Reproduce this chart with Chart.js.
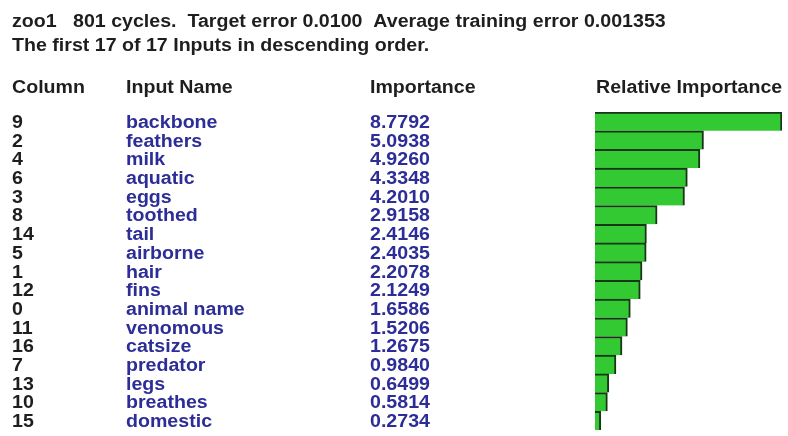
<!DOCTYPE html>
<html>
<head>
<meta charset="utf-8">
<script src="https://cdn.jsdelivr.net/npm/chart.js@4/dist/chart.umd.min.js"></script>
<style>
  html, body { margin: 0; padding: 0; background: #ffffff; }
  #wrap { width: 788px; height: 436px; position: relative; }
</style>
</head>
<body>
<div id="wrap"><canvas id="c" width="788" height="436"></canvas></div>
<script>
// ---- data ----
const titleLines = [
  "zoo1   801 cycles.  Target error 0.0100  Average training error 0.001353",
  "The first 17 of 17 Inputs in descending order."
];
const headers = ["Column", "Input Name", "Importance", "Relative Importance"];
const columns = ["9", "2", "4", "6", "3", "8", "14", "5", "1", "12", "0", "11", "16", "7", "13", "10", "15"];
const inputNames = ["backbone", "feathers", "milk", "aquatic", "eggs", "toothed", "tail", "airborne", "hair",
  "fins", "animal name", "venomous", "catsize", "predator", "legs", "breathes", "domestic"];
const importance = [8.7792, 5.0938, 4.9260, 4.3348, 4.2010, 2.9158, 2.4146, 2.4035, 2.2078,
  2.1249, 1.6586, 1.5206, 1.2675, 0.9840, 0.6499, 0.5814, 0.2734];

// ---- style ----
const FONT = 'bold 17.5px "Liberation Sans", Arial, sans-serif';
const SX = 1.12;
const DARK = '#1e1e1e';
const BLUE = '#2d2d98';
const colX = [12, 126, 370, 596];

function drawText(ctx, text, x, y, color) {
  ctx.save();
  ctx.translate(x, y);
  ctx.scale(SX, 1);
  ctx.fillStyle = color;
  ctx.fillText(text, 0, 0);
  ctx.restore();
}

const textPlugin = {
  id: 'tableText',
  afterDraw(chart) {
    const ctx = chart.ctx;
    const yScale = chart.scales.y;
    ctx.save();
    ctx.font = FONT;
    ctx.textAlign = 'left';
    ctx.textBaseline = 'alphabetic';
    drawText(ctx, titleLines[0], 12, 27, DARK);
    drawText(ctx, titleLines[1], 12, 51, DARK);
    headers.forEach((h, i) => drawText(ctx, h, colX[i], 93, DARK));
    columns.forEach((c, i) => {
      const y = yScale.getPixelForValue(i) + 6.5;
      drawText(ctx, c, colX[0], y, DARK);
      drawText(ctx, inputNames[i], colX[1], y, BLUE);
      drawText(ctx, importance[i].toFixed(4), colX[2], y, BLUE);
    });
    ctx.restore();
  }
};

new Chart(document.getElementById('c'), {
  type: 'bar',
  data: {
    labels: inputNames,
    datasets: [{
      data: importance,
      backgroundColor: '#33c933',
      borderColor: '#173517',
      borderWidth: { top: 2, right: 2, bottom: 0, left: 0 },
      borderSkipped: false,
      barPercentage: 1,
      categoryPercentage: 1
    }]
  },
  options: {
    indexAxis: 'y',
    responsive: false,
    animation: false,
    devicePixelRatio: 1,
    layout: { padding: { left: 595, right: 6, top: 112, bottom: 6 } },
    scales: {
      x: { display: false, min: 0, max: Math.max(...importance) },
      y: { display: false }
    },
    plugins: {
      legend: { display: false },
      tooltip: { enabled: false },
      title: { display: false }
    }
  },
  plugins: [textPlugin]
});
</script>
</body>
</html>
